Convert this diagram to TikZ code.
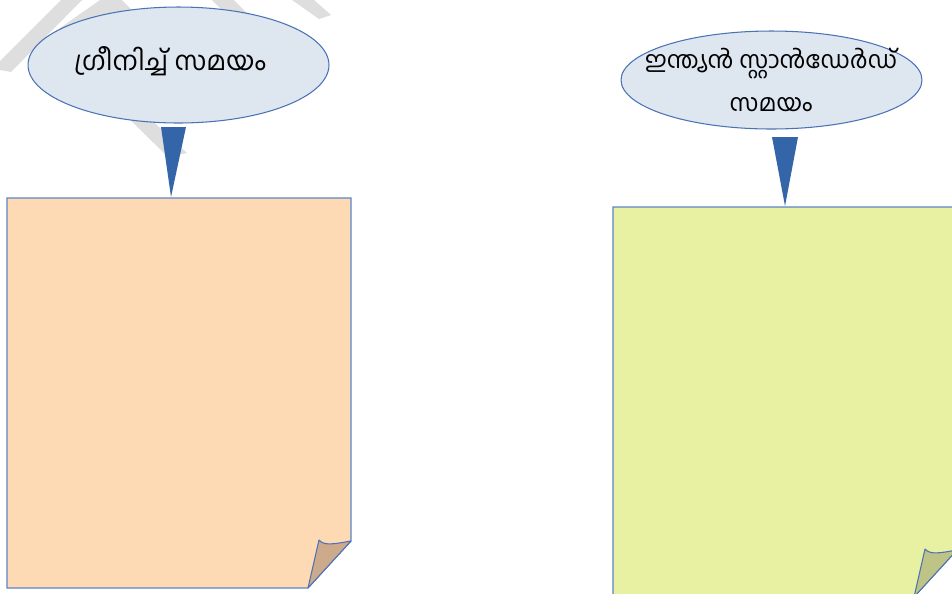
\documentclass[tikz,border=0pt]{standalone}
\usepackage{fontspec}
\newfontfamily\mlfont[Script=Malayalam]{Hind Kochi}
\usetikzlibrary{shapes.geometric}
\definecolor{callfill}{HTML}{DEE6F0}
\definecolor{callline}{HTML}{4A72B4}
\definecolor{wedgeblue}{HTML}{3465A9}
\definecolor{pageline}{HTML}{5B84C8}
\definecolor{peach}{HTML}{FDDAB4}
\definecolor{peachfold}{HTML}{CDAA8C}
\definecolor{lime}{HTML}{E8F0A2}
\definecolor{limefold}{HTML}{BEC486}
\definecolor{markgray}{HTML}{DEDEDE}
\begin{document}
\begin{tikzpicture}[x=0.02cm, y=-0.02cm,
    every node/.style={font=\mlfont\fontsize{15}{22}\selectfont},
    bubble/.style={ellipse, draw=callline, fill=callfill, line width=0.6pt, inner sep=0pt},
    pointer/.style={fill=wedgeblue},
    page/.style={draw=pageline, line width=0.6pt},
    fold/.style={draw=callline, line width=0.6pt, line join=round}]
    \clip (0,0) rectangle (952,593);
    % faint marks left behind at the top
    \fill[markgray] (0,61) -- (61,0) -- (82,0) -- (11,72) -- (0,70) -- cycle;
    \fill[markgray] (100,0) -- (122,0) -- (150,28) -- (75,45) -- (60,28) -- cycle;
    \fill[markgray] (110,100) -- (130,100) -- (187,153) -- (168,157) -- cycle;
    \fill[markgray] (212,0) -- (234,0) -- (252,18) -- (230,18) -- cycle;
    \fill[markgray] (292,0) -- (314,0) -- (331,15) -- (319,19) -- cycle;
    % greenwich side
    \node[bubble, minimum width=6.02cm, minimum height=2.32cm] (gmt) at (178.5,65) {};
    \node (gmttext) at (170,61) {ഗ്രീനിച്ച് സമയം};
    \fill[pointer] (161,127) -- (186,127) -- (171,197) -- cycle;
    \filldraw[page, fill=peach] (7,198) -- (351,198) -- (351,541) -- (308,588) -- (7,588) -- cycle;
    \filldraw[fold, fill=peachfold] (308,588) -- (319,540) .. controls (324,546) and (334,544) .. (351,541) -- cycle;
    % indian standard side
    \node[bubble, minimum width=6.02cm, minimum height=1.96cm] (ist) at (771.5,80) {};
    \node[align=center, font=\mlfont\fontsize{13.6}{24}\selectfont] (isttext) at (771,80) {ഇന്ത്യൻ സ്റ്റാൻഡേർഡ്\\സമയം};
    \fill[pointer] (772,137) -- (798,137) -- (785,206) -- cycle;
    \filldraw[page, fill=lime] (613,207) -- (957,207) -- (957,550) -- (914,597) -- (613,597) -- cycle;
    \filldraw[fold, fill=limefold] (914,597) -- (925,549) .. controls (930,555) and (940,553) .. (957,550) -- cycle;
\end{tikzpicture}
\end{document}
